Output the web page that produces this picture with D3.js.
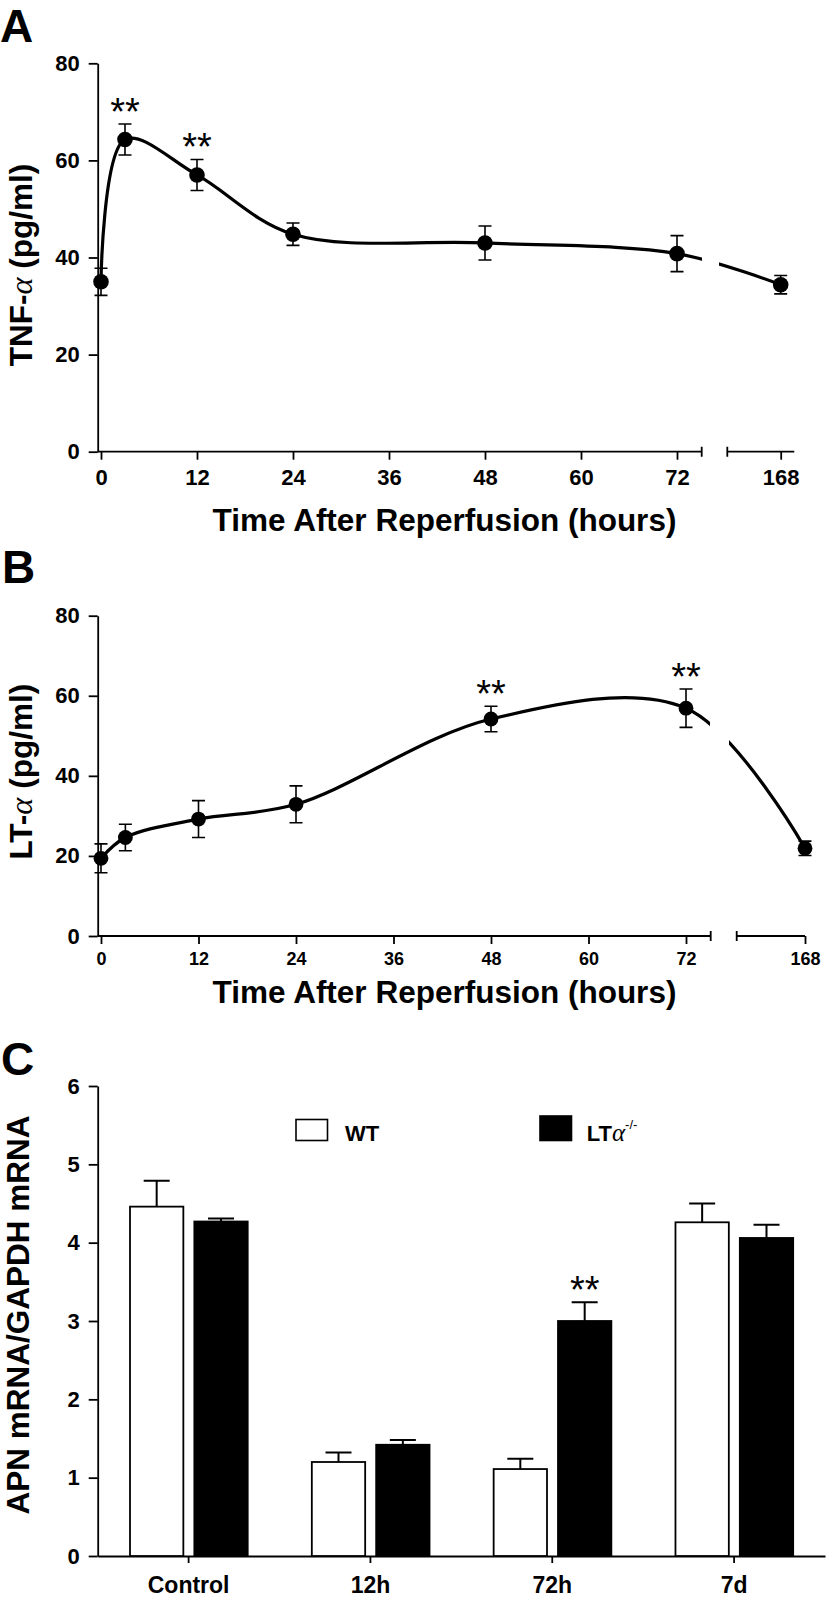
<!DOCTYPE html>
<html>
<head>
<meta charset="utf-8">
<script src="https://cdn.jsdelivr.net/npm/d3@7/dist/d3.min.js"></script>
<style>
  html, body { margin: 0; padding: 0; background: #fff; }
  svg { display: block; }
  text { font-family: "Liberation Sans", Arial, sans-serif; fill: #000; }
</style>
</head>
<body>
<svg id="chart" width="829" height="1619"></svg>
<script>
// ---------- DATA ----------
const times = [0, 3, 12, 24, 48, 72, 168];
const xTickValues = [0, 12, 24, 36, 48, 60, 72, 168];
const yTicksAB = [0, 20, 40, 60, 80];

const tnfMean = [35.0, 64.3, 57.0, 44.8, 43.0, 40.8, 34.4];
const tnfErr  = [2.8, 3.2, 3.2, 2.3, 3.5, 3.7, 1.9];
const tnfSig  = [3, 12];

const ltMean = [19.4, 24.6, 29.2, 32.9, 54.2, 56.9, 21.9];
const ltErr  = [3.6, 3.3, 4.6, 4.6, 3.2, 4.8, 1.8];
const ltSig  = [48, 72];

const categories = ["Control", "12h", "72h", "7d"];
const seriesNames = ["WT", "LTa"];
const wtMean  = [4.46, 1.20, 1.11, 4.26];
const wtErr   = [0.33, 0.12, 0.13, 0.24];
const ltaMean = [4.27, 1.42, 3.00, 4.06];
const ltaErr  = [0.04, 0.06, 0.24, 0.17];
const ltaSig  = ["72h"];
const yTicksC = [0, 1, 2, 3, 4, 5, 6];

// ---------- LAYOUT ----------
const svg = d3.select("#chart");
const AXIS_X = 97.7;
const BOLD = "bold";

function panelLetter(letter, x, y) {
  svg.append("text").attr("x", x).attr("y", y)
    .attr("font-size", 46).attr("font-weight", BOLD).text(letter);
}

function styleAxis(sel, fontSize) {
  sel.selectAll(".domain, .tick line").attr("stroke", "#000").attr("stroke-width", 1.8);
  sel.selectAll(".tick text").attr("font-size", fontSize).attr("font-weight", BOLD)
    .attr("font-family", "'Liberation Sans', Arial, sans-serif").attr("fill", "#000");
}

function yTitle(parts, cx, cy, size) {
  const t = svg.append("text")
    .attr("transform", `translate(${cx},${cy}) rotate(-90)`)
    .attr("text-anchor", "middle").attr("font-size", size).attr("font-weight", BOLD);
  parts.forEach(p => {
    const ts = t.append("tspan").text(p.t);
    if (p.alpha) ts.attr("font-family", "'Liberation Serif', serif").attr("font-weight", "normal").attr("font-style", "italic").attr("font-size", size + 1);
  });
}

function linePanel(cfg, mean, err, sig) {
  const g = svg.append("g");
  const x = d3.scaleLinear().domain([0, 72, 168]).range([cfg.x0, cfg.x72, cfg.x168]);
  const y = d3.scaleLinear().domain([0, 80]).range([cfg.yBottom, cfg.yTop]);

  // Y axis
  const ya = g.append("g").attr("transform", `translate(${AXIS_X},0)`)
    .call(d3.axisLeft(y).tickValues(yTicksAB).tickSize(9).tickSizeOuter(0).tickPadding(9));
  styleAxis(ya, cfg.yTickFont);

  // X axis (ticks only; domain drawn as broken segments)
  const xa = g.append("g").attr("transform", `translate(0,${cfg.yBottom})`)
    .call(d3.axisBottom(x).tickValues(xTickValues).tickSize(8).tickSizeOuter(0));
  xa.select(".domain").remove();
  styleAxis(xa, cfg.xTickFont);
  xa.selectAll(".tick text").attr("dy", null).attr("y", cfg.xLabelOffset);

  g.append("path")
    .attr("d", `M${AXIS_X},${cfg.yBottom}H${cfg.seg1End}M${cfg.seg2Start},${cfg.yBottom}H${cfg.seg2End}` +
               `M${cfg.seg1End},${cfg.yBottom - 5}V${cfg.yBottom + 5}M${cfg.seg2Start},${cfg.yBottom - 5}V${cfg.yBottom + 5}`)
    .attr("stroke", "#000").attr("stroke-width", 1.8).attr("fill", "none");

  // X title
  svg.append("text").attr("x", cfg.titleX).attr("y", cfg.titleY)
    .attr("text-anchor", "middle").attr("font-size", cfg.titleFont).attr("font-weight", BOLD)
    .text("Time After Reperfusion (hours)");

  // curve with gap at the axis break
  const clipId = "clip" + cfg.id;
  const cp = svg.append("clipPath").attr("id", clipId);
  cp.append("rect").attr("x", 0).attr("y", 0).attr("width", cfg.gapStart).attr("height", 1619);
  cp.append("rect").attr("x", cfg.gapEnd).attr("y", 0).attr("width", 829 - cfg.gapEnd).attr("height", 1619);

  const pts = times.map((t, i) => [x(t), y(mean[i])]);
  g.append("path").attr("clip-path", `url(#${clipId})`)
    .attr("d", d3.line().curve(d3.curveCatmullRom.alpha(0.5))(pts))
    .attr("fill", "none").attr("stroke", "#000").attr("stroke-width", 3.2);

  // error bars
  const cap = 6.5;
  times.forEach((t, i) => {
    const cx = x(t), yt = y(mean[i] + err[i]), yb = y(mean[i] - err[i]);
    g.append("path")
      .attr("d", `M${cx},${yt}V${yb}M${cx - cap},${yt}H${cx + cap}M${cx - cap},${yb}H${cx + cap}`)
      .attr("stroke", "#000").attr("stroke-width", 1.6).attr("fill", "none");
  });
  // dots
  g.selectAll("circle.dot").data(times).join("circle")
    .attr("cx", d => x(d)).attr("cy", (d, i) => y(mean[i])).attr("r", cfg.r).attr("fill", "#000");

  // significance
  sig.forEach(t => {
    const i = times.indexOf(t);
    g.append("text").attr("x", x(t)).attr("y", y(mean[i] + err[i]) + 1)
      .attr("text-anchor", "middle").attr("font-size", 38).attr("font-weight", "normal").text("**");
  });
}

// ---------- PANEL A ----------
panelLetter("A", 0, 42);
linePanel({
  id: "A", x0: 101, x72: 677, x168: 780.7, yTop: 63.3, yBottom: 451.7,
  seg1End: 701.7, seg2Start: 727.3, seg2End: 794.3, gapStart: 702, gapEnd: 719,
  yTickFont: 22, xTickFont: 22, xLabelOffset: 33.3, r: 7.8,
  titleX: 444.5, titleY: 531, titleFont: 31.5
}, tnfMean, tnfErr, tnfSig);
yTitle([{t: "TNF-"}, {t: "α", alpha: true}, {t: " (pg/ml)"}], 32, 265, 31.5);

// ---------- PANEL B ----------
panelLetter("B", 2, 583);
linePanel({
  id: "B", x0: 101, x72: 686, x168: 805, yTop: 615.7, yBottom: 936,
  seg1End: 710.7, seg2Start: 736.7, seg2End: 805, gapStart: 710, gapEnd: 729,
  yTickFont: 22, xTickFont: 18, xLabelOffset: 29, r: 7.4,
  titleX: 444.5, titleY: 1003, titleFont: 31.5
}, ltMean, ltErr, ltSig);
yTitle([{t: "LT-"}, {t: "α", alpha: true}, {t: " (pg/ml)"}], 32, 771.7, 31.5);

// ---------- PANEL C ----------
panelLetter("C", 1, 1075);
const gC = svg.append("g");
const x0 = d3.scaleBand().domain(categories).range([AXIS_X, 825]);
const x1 = d3.scaleBand().domain(seriesNames).range([32.3, 150]).paddingInner(0.171);
const yC = d3.scaleLinear().domain([0, 6]).range([1556, 1086]);

const yaC = gC.append("g").attr("transform", `translate(${AXIS_X},0)`)
  .call(d3.axisLeft(yC).tickValues(yTicksC).tickFormat(d3.format("d")).tickSize(9).tickSizeOuter(0).tickPadding(9));
styleAxis(yaC, 22);

const xaC = gC.append("g").attr("transform", `translate(0,1556)`)
  .call(d3.axisBottom(x0).tickSize(7).tickSizeOuter(0));
styleAxis(xaC, 23);
xaC.selectAll(".tick text").attr("dy", null).attr("y", 37);

const barData = [];
categories.forEach((c, i) => {
  barData.push({cat: c, s: "WT", v: wtMean[i], e: wtErr[i]});
  barData.push({cat: c, s: "LTa", v: ltaMean[i], e: ltaErr[i]});
});
// error bars (upper only)
barData.forEach(d => {
  const cx = x0(d.cat) + x1(d.s) + x1.bandwidth() / 2;
  gC.append("path")
    .attr("d", `M${cx},${yC(d.v)}V${yC(d.v + d.e)}M${cx - 13},${yC(d.v + d.e)}H${cx + 13}`)
    .attr("stroke", "#000").attr("stroke-width", 2).attr("fill", "none");
});
gC.selectAll("rect.bar").data(barData).join("rect")
  .attr("x", d => x0(d.cat) + x1(d.s))
  .attr("y", d => yC(d.v))
  .attr("width", x1.bandwidth())
  .attr("height", d => yC(0) - yC(d.v))
  .attr("fill", d => d.s === "WT" ? "#fff" : "#000")
  .attr("stroke", "#000").attr("stroke-width", 1.8);

ltaSig.forEach(c => {
  const i = categories.indexOf(c);
  const cx = x0(c) + x1("LTa") + x1.bandwidth() / 2;
  gC.append("text").attr("x", cx).attr("y", yC(ltaMean[i] + ltaErr[i]) + 1)
    .attr("text-anchor", "middle").attr("font-size", 38).text("**");
});

// legend
gC.append("rect").attr("x", 296).attr("y", 1119.5).attr("width", 31.5).attr("height", 21)
  .attr("fill", "#fff").attr("stroke", "#000").attr("stroke-width", 1.6);
gC.append("text").attr("x", 345).attr("y", 1140.5).attr("font-size", 22).attr("font-weight", BOLD).text("WT");
gC.append("rect").attr("x", 540).attr("y", 1116).attr("width", 31.5).attr("height", 24.5)
  .attr("fill", "#000").attr("stroke", "#000").attr("stroke-width", 1.6);
const lt = gC.append("text").attr("x", 586.7).attr("y", 1140.5).attr("font-size", 22).attr("font-weight", BOLD);
lt.append("tspan").text("LT");
lt.append("tspan").attr("font-family", "'Liberation Serif', serif").attr("font-weight", "normal")
  .attr("font-style", "italic").attr("font-size", 25).text("α");
lt.append("tspan").attr("font-weight", "normal").attr("font-size", 13).attr("dy", -12).text("-/-");

yTitle([{t: "APN mRNA/GAPDH mRNA"}], 29, 1315, 31.5);
</script>
</body>
</html>
